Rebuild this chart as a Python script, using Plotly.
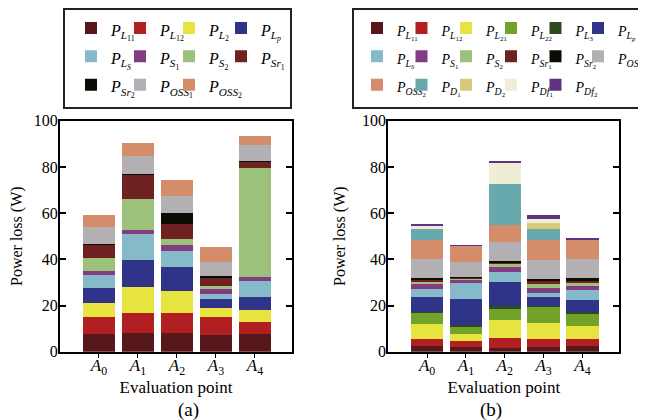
import plotly.graph_objects as go

categories = ["<i>A</i><sub>0</sub>", "<i>A</i><sub>1</sub>", "<i>A</i><sub>2</sub>",
              "<i>A</i><sub>3</sub>", "<i>A</i><sub>4</sub>"]

# ---- panel (a) components (W) ----
a_L11 = [7.6, 8.2, 8.2, 7.2, 7.6]
a_L12 = [7.4, 8.5, 8.5, 7.7, 5.4]
a_L2 = [6.1, 11.3, 9.6, 3.9, 5.0]
a_Lp = [6.3, 11.7, 10.4, 3.9, 5.5]
a_Ls = [5.8, 11.4, 6.7, 2.3, 6.9]
a_S1 = [1.7, 1.7, 2.6, 2.1, 1.9]
a_S2 = [5.6, 13.1, 2.8, 1.3, 47.2]
a_Sr1 = [6.1, 11.0, 6.5, 3.5, 3.0]
a_Sr2 = [0.1, 0.2, 4.9, 1.0, 0.1]
a_OSS1 = [7.1, 7.8, 7.2, 6.1, 6.7]
a_OSS2 = [5.5, 5.6, 6.9, 6.3, 4.2]

# ---- panel (b) components (W) ----
b_L11 = [2.5, 2.2, 1.7, 1.9, 2.3]
b_L12 = [3.0, 2.4, 4.4, 3.4, 3.0]
b_L21 = [6.3, 2.9, 7.6, 7.3, 5.8]
b_L22 = [5.1, 3.0, 4.9, 6.9, 5.5]
b_L3 = [0.4, 1.2, 1.0, 0.4, 0.4]
b_Lp = [6.4, 11.1, 10.4, 3.6, 5.4]
b_Ls = [3.4, 7.1, 4.5, 1.8, 4.3]
b_S1 = [2.2, 1.1, 2.2, 2.3, 1.9]
b_S2 = [1.3, 0.9, 1.7, 1.8, 1.0]
b_Sr1 = [0.4, 0.2, 0.4, 1.0, 1.3]
b_Sr2 = [1.0, 0.2, 0.4, 1.1, 0.8]
b_OSS1 = [8.0, 6.7, 8.1, 8.2, 8.3]
b_OSS2 = [8.5, 6.9, 7.7, 8.6, 8.6]
b_D1 = [4.6, 0.0, 17.6, 4.7, 0.0]
b_D2 = [0.0, 0.0, 0.0, 2.7, 0.0]
b_Df1 = [1.7, 0.0, 9.5, 1.9, 0.0]
b_Df2 = [0.5, 0.4, 0.6, 1.6, 0.5]

# legend labels: (base, index, index italic?)
a_labels = [("L", "11", False), ("L", "12", False), ("L", "2", False), ("L", "p", True),
            ("L", "S", True), ("S", "1", False), ("S", "2", False), ("Sr", "1", False),
            ("Sr", "2", False), ("OSS", "1", False), ("OSS", "2", False)]
b_labels = [("L", "11", False), ("L", "12", False), ("L", "21", False), ("L", "22", False),
            ("L", "3", False), ("L", "p", True), ("L", "S", True), ("S", "1", False),
            ("S", "2", False), ("Sr", "1", False), ("Sr", "2", False), ("OSS", "1", False),
            ("OSS", "2", False), ("D", "1", False), ("D", "2", False), ("Df", "1", False),
            ("Df", "2", False)]

a_series = [a_L11, a_L12, a_L2, a_Lp, a_Ls, a_S1, a_S2, a_Sr1, a_Sr2, a_OSS1, a_OSS2]
b_series = [b_L11, b_L12, b_L21, b_L22, b_L3, b_Lp, b_Ls, b_S1, b_S2, b_Sr1, b_Sr2,
            b_OSS1, b_OSS2, b_D1, b_D2, b_Df1, b_Df2]

C = {"L11": "#56181a", "L12": "#b11f23", "L2": "#e8e43f", "L22": "#73a22b", "L3": "#2d4a23",
     "Lp": "#2f3488", "Ls": "#86bac9", "S1": "#813c82", "S2": "#9cc17b", "Sr1": "#6d2121",
     "Sr2": "#0c0c07", "OSS1": "#b2b0b3", "OSS2": "#d38d6a", "D1": "#68a9ae", "D2": "#d5cb7b",
     "Df1": "#eeeed6", "Df2": "#613283"}
a_colors = [C[k] for k in ["L11", "L12", "L2", "Lp", "Ls", "S1", "S2", "Sr1", "Sr2", "OSS1", "OSS2"]]
b_colors = [C[k] for k in ["L11", "L12", "L2", "L22", "L3", "Lp", "Ls", "S1", "S2", "Sr1", "Sr2",
                           "OSS1", "OSS2", "D1", "D2", "Df1", "Df2"]]

FONT = "Liberation Serif"
W, H = 638, 412          # page body adds an 8 px offset
OFF = 8


def px(x):
    return (x - OFF) / W


def py(y):
    return 1 - (y - OFF) / H


def label(base, idx, ital, size):
    i = f"<i>{idx}</i>" if ital else idx
    return (f'<span style="font-size:{size}px"><i>P</i><sub><i>{base}</i>'
            f'<sub>{i}</sub></sub></span>')


def legname(n):
    return "legend" if n == 1 else f"legend{n}"


fig = go.Figure()
for k, (vals, lab, col) in enumerate(zip(a_series, a_labels, a_colors)):
    fig.add_trace(go.Bar(x=categories, y=vals, name=label(*lab, 16), marker_color=col,
                         marker_line_width=0, legend=legname(1 + k % 4),
                         xaxis="x", yaxis="y", hoverinfo="skip"))
for k, (vals, lab, col) in enumerate(zip(b_series, b_labels, b_colors)):
    fig.add_trace(go.Bar(x=categories, y=vals, name=label(*lab, 14), marker_color=col,
                         marker_line_width=0, legend=legname(5 + k % 6),
                         xaxis="x2", yaxis="y2", hoverinfo="skip"))

ydom = [py(351.7), py(120.7)]
xcommon = dict(showline=True, linewidth=2, linecolor="black", mirror=True, ticks="outside",
               ticklen=4, tickcolor="black", tickfont=dict(family=FONT, size=17, color="black"),
               range=[-1.0, 4.95], showgrid=False, ticklabelstandoff=-7,
               title=dict(text="Evaluation point", font=dict(family=FONT, size=17, color="black"),
                          standoff=0))
ycommon = dict(showline=True, linewidth=2, linecolor="black", mirror="ticks", ticks="inside",
               ticklen=6, tickcolor="black", tickwidth=1.5, range=[0, 100], dtick=20,
               showgrid=False, zeroline=False, domain=ydom, ticklabelstandoff=-3,
               tickfont=dict(family=FONT, size=16, color="black"),
               title=dict(text="Power loss (W)", font=dict(family=FONT, size=16, color="black"),
                          standoff=12))

legcommon = dict(orientation="v", traceorder="normal", borderwidth=0,
                 bgcolor="rgba(0,0,0,0)", xanchor="left", yanchor="top", y=py(8.8),
                 font=dict(family=FONT, size=19.5, color="black"))

legends = {}
a_cols = [91, 140, 189, 241]
b_cols = [377.0, 421.5, 466, 511, 555.5, 598]
for j, cx in enumerate(a_cols):
    legends[legname(1 + j)] = dict(x=px(cx - 20), **legcommon)
for j, cx in enumerate(b_cols):
    legends[legname(5 + j)] = dict(x=px(cx - 20), **legcommon)

fig.update_layout(
    width=W, height=H, margin=dict(l=0, r=0, t=0, b=0, autoexpand=False),
    paper_bgcolor="white", plot_bgcolor="white", barmode="stack", bargap=0.17,
    font=dict(family=FONT, color="black"),
    xaxis=dict(domain=[px(60), px(292)], anchor="y", **xcommon),
    yaxis=dict(anchor="x", **ycommon),
    xaxis2=dict(domain=[px(388.3), px(619.3)], anchor="y2", **xcommon),
    yaxis2=dict(anchor="x2", **ycommon),
    shapes=[
        dict(type="rect", xref="paper", yref="paper", x0=px(64), x1=px(291),
             y0=py(108), y1=py(9), line=dict(color="#222", width=2)),
        dict(type="rect", xref="paper", yref="paper", x0=px(353), x1=px(660),
             y0=py(108), y1=py(9), line=dict(color="#222", width=2)),
    ],
    annotations=[
        dict(text="(a)", x=px(176), y=py(410), xref="paper", yref="paper", yanchor="middle",
             showarrow=False, font=dict(family=FONT, size=19, color="black")),
        dict(text="(b)", x=px(504), y=py(410), xref="paper", yref="paper", yanchor="middle",
             showarrow=False, font=dict(family=FONT, size=19, color="black")),
    ],
    **legends,
)

fig.write_html("out.html")
